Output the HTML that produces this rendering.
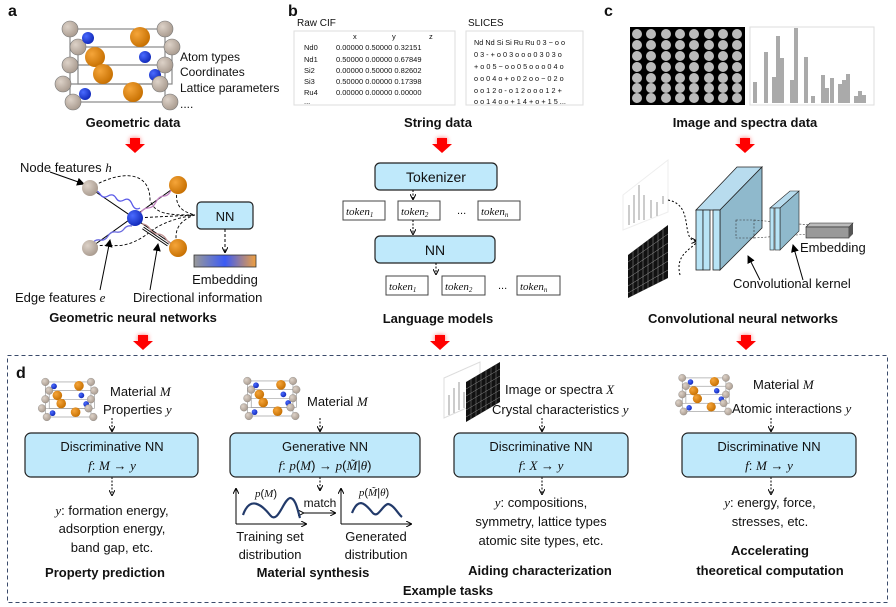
<!DOCTYPE html>
<html><head><meta charset="utf-8"><style>
html,body{margin:0;padding:0;background:#fff}
svg{display:block}
text{font-family:"Liberation Sans",sans-serif;fill:#111}
.b{font-weight:bold}
.m{font-family:"Liberation Serif",serif;font-style:italic}
</style></head><body>
<svg width="896" height="607" viewBox="0 0 896 607" xmlns="http://www.w3.org/2000/svg">
<defs>
<filter id="gl" x="-1" y="-1" width="3" height="3"><feGaussianBlur stdDeviation="2.5"/></filter>
<radialGradient id="gg" cx="0.35" cy="0.35" r="0.7"><stop offset="0" stop-color="#ddd2c8"/><stop offset="1" stop-color="#a89a8e"/></radialGradient>
<radialGradient id="og" cx="0.35" cy="0.35" r="0.7"><stop offset="0" stop-color="#f5a53a"/><stop offset="1" stop-color="#c66f00"/></radialGradient>
<radialGradient id="bg" cx="0.35" cy="0.35" r="0.7"><stop offset="0" stop-color="#4a6bff"/><stop offset="1" stop-color="#1028b8"/></radialGradient>
<linearGradient id="emb" x1="0" x2="1"><stop offset="0" stop-color="#999"/><stop offset="0.5" stop-color="#3b5bf5"/><stop offset="1" stop-color="#f0a040"/></linearGradient>
<g id="arr"><rect x="-5" y="-7" width="10" height="7" fill="#f00" filter="url(#gl)" opacity="0.6"/><rect x="-5" y="-7" width="10" height="6" fill="#f00"/><polygon points="-10,-1 10,-1 0,8" fill="#f00"/></g>
<g id="row" fill="#bbb"><circle cx="637" cy="0" r="5"/><circle cx="651" cy="0" r="5"/><circle cx="666" cy="0" r="5"/><circle cx="680" cy="0" r="5"/><circle cx="694" cy="0" r="5"/><circle cx="709" cy="0" r="5"/><circle cx="723" cy="0" r="5"/><circle cx="737" cy="0" r="5"/></g>
<g id="cry">
<g stroke="#888" stroke-width="1.2" fill="none">
<rect x="7" y="2" width="95" height="73"/><rect x="15" y="20" width="94" height="37"/>
<line x1="7" y1="38" x2="102" y2="38"/><line x1="0" y1="57" x2="97" y2="57"/>
</g>
<g fill="url(#gg)" stroke="#777" stroke-width="0.6">
<circle cx="7" cy="2" r="8"/><circle cx="102" cy="2" r="8"/><circle cx="15" cy="20" r="8"/><circle cx="109" cy="20" r="8"/><circle cx="7" cy="38" r="8"/><circle cx="102" cy="38" r="8"/>
</g>
<g fill="url(#bg)"><circle cx="25" cy="11" r="6"/><circle cx="82" cy="30" r="6"/><circle cx="92" cy="48" r="6"/><circle cx="22" cy="67" r="6"/></g>
<g fill="url(#og)"><circle cx="77" cy="10" r="10"/><circle cx="32" cy="30" r="10"/><circle cx="40" cy="47" r="10"/><circle cx="70" cy="65" r="10"/></g>
<g fill="url(#gg)" stroke="#777" stroke-width="0.6"><circle cx="0" cy="57" r="8"/><circle cx="97" cy="57" r="8"/><circle cx="10" cy="75" r="8"/><circle cx="107" cy="75" r="8"/></g>
</g>
<marker id="ah" markerWidth="6" markerHeight="6" refX="5" refY="3" orient="auto"><path d="M0,0 L6,3 L0,6" fill="none" stroke="#000" stroke-width="1"/></marker>
<marker id="ahs" markerWidth="8" markerHeight="8" refX="7" refY="4" orient="auto"><path d="M0,0 L8,4 L0,8 z" fill="#000"/></marker>
</defs>

<!-- panel a -->
<text x="8" y="16" class="b" font-size="16">a</text>
<use href="#cry" transform="translate(63,27)"/>
<g font-size="12"><text x="180" y="61">Atom types</text><text x="180" y="76">Coordinates</text><text x="180" y="92">Lattice parameters</text><text x="180" y="108">....</text></g>
<text x="133" y="127" class="b" font-size="13" text-anchor="middle">Geometric data</text>
<use href="#arr" transform="translate(135,145)"/>
<text x="20" y="172" font-size="13">Node features <tspan class="m">h</tspan></text>
<line x1="50" y1="172" x2="84" y2="184" stroke="#000" marker-end="url(#ahs)"/>
<g stroke="#000" stroke-width="0.9" fill="none" stroke-dasharray="3,2">
<path d="M90,188 C120,170 150,170 150,200 C155,215 170,215 195,215"/>
<path d="M90,248 C110,240 120,255 150,232 C160,224 175,218 195,215"/>
<path d="M178,185 C175,200 175,210 195,215"/>
<path d="M178,248 C172,230 180,220 195,215"/>
<path d="M135,218 L195,215"/>
</g>
<g stroke="#000" stroke-width="1"><line x1="90" y1="188" x2="178" y2="248"/><line x1="90" y1="248" x2="178" y2="185"/></g>
<path d="M92,192 q5,-3 8,2 t8,2 t8,2 t8,2 t8,4 t8,4" stroke="#5a5ae8" fill="none" stroke-width="1.3"/>
<path d="M92,244 q3,-5 8,-4 t8,-4 t8,-4 t8,-3 t8,-3" stroke="#6b6be0" fill="none" stroke-width="1.3"/>
<path d="M140,214 q3,-6 8,-6 t8,-6 t8,-6 t8,-8" stroke="#c080c0" fill="none" stroke-width="1.3"/>
<path d="M142,224 q5,0 8,5 t8,5 t8,5 t8,5" stroke="#c09090" fill="none" stroke-width="1.3"/>
<line x1="143" y1="228" x2="168" y2="245" stroke="#000" stroke-width="3"/><line x1="143" y1="228" x2="168" y2="245" stroke="#fff" stroke-width="1.2"/>
<circle cx="90" cy="188" r="8" fill="url(#gg)"/><circle cx="90" cy="248" r="8" fill="url(#gg)"/>
<circle cx="178" cy="185" r="9" fill="url(#og)"/><circle cx="178" cy="248" r="9" fill="url(#og)"/>
<circle cx="135" cy="218" r="8" fill="url(#bg)"/>
<rect x="197" y="202" width="56" height="27" rx="4" fill="#bfe9fb" stroke="#222" stroke-width="1.2"/>
<text x="225" y="221" font-size="13" text-anchor="middle">NN</text>
<line x1="225" y1="229" x2="225" y2="252" stroke="#000" stroke-dasharray="3,2" marker-end="url(#ah)"/>
<rect x="194" y="255" width="62" height="12" fill="url(#emb)" stroke="#333" stroke-width="0.8"/>
<text x="225" y="284" font-size="13" text-anchor="middle">Embedding</text>
<line x1="100" y1="290" x2="110" y2="240" stroke="#000" marker-end="url(#ahs)"/>
<line x1="150" y1="290" x2="158" y2="244" stroke="#000" marker-end="url(#ahs)"/>
<text x="15" y="302" font-size="13">Edge features <tspan class="m">e</tspan></text>
<text x="133" y="302" font-size="13">Directional information</text>
<text x="133" y="322" class="b" font-size="13" text-anchor="middle">Geometric neural networks</text>

<!-- panel b -->
<text x="288" y="16" class="b" font-size="16">b</text>
<text x="297" y="26" font-size="10">Raw CIF</text>
<rect x="294" y="31" width="161" height="74" fill="#fff" stroke="#ddd"/>
<g font-size="7.5"><text x="353" y="39">x</text><text x="392" y="39">y</text><text x="429" y="39">z</text>
<text x="304" y="50">Nd0</text><text x="336" y="50">0.00000  0.50000  0.32151</text>
<text x="304" y="62">Nd1</text><text x="336" y="62">0.50000  0.00000  0.67849</text>
<text x="304" y="73">Si2</text><text x="336" y="73">0.00000  0.50000  0.82602</text>
<text x="304" y="84">Si3</text><text x="336" y="84">0.50000  0.00000  0.17398</text>
<text x="304" y="95">Ru4</text><text x="336" y="95">0.00000  0.00000  0.00000</text>
<text x="304" y="104">...</text></g>
<text x="468" y="26" font-size="10">SLICES</text>
<rect x="466" y="31" width="117" height="74" fill="#fff" stroke="#ddd"/>
<g font-size="7.3"><text x="474" y="45">Nd Nd Si Si Ru Ru 0 3 − o o</text><text x="474" y="57">0 3 - + o 0 3 o o o 0 3 0 3 o</text><text x="474" y="69">+ o 0 5 − o o 0 5 o o o 0 4 o</text><text x="474" y="81">o o 0 4 o + o 0 2 o o − 0 2 o</text><text x="474" y="93">o o 1 2 o  - o 1 2 o o o 1 2 +</text><text x="474" y="104">o o 1 4 o o + 1 4 + o + 1 5 ...</text></g>
<text x="438" y="127" class="b" font-size="13" text-anchor="middle">String data</text>
<use href="#arr" transform="translate(442,145)"/>
<rect x="375" y="163" width="122" height="27" rx="5" fill="#bfe9fb" stroke="#222" stroke-width="1.2"/>
<text x="436" y="182" font-size="14" text-anchor="middle">Tokenizer</text>
<line x1="413" y1="190" x2="413" y2="199" stroke="#000" stroke-dasharray="2,1.5" marker-end="url(#ah)"/>
<rect x="343" y="201" width="42" height="19" fill="#fff" stroke="#444"/><text x="346" y="215" font-size="11" class="m">token<tspan font-size="7" dy="2">1</tspan></text>
<rect x="398" y="201" width="42" height="19" fill="#fff" stroke="#444"/><text x="401" y="215" font-size="11" class="m">token<tspan font-size="7" dy="2">2</tspan></text>
<rect x="478" y="201" width="42" height="19" fill="#fff" stroke="#444"/><text x="481" y="215" font-size="11" class="m">token<tspan font-size="7" dy="2">n</tspan></text>
<text x="457" y="214" font-size="11">...</text>
<line x1="413" y1="220" x2="413" y2="234" stroke="#000" stroke-dasharray="2,1.5" marker-end="url(#ah)"/>
<rect x="375" y="236" width="120" height="27" rx="5" fill="#bfe9fb" stroke="#222" stroke-width="1.2"/>
<text x="435" y="255" font-size="14" text-anchor="middle">NN</text>
<line x1="436" y1="263" x2="436" y2="274" stroke="#000" stroke-dasharray="2,1.5" marker-end="url(#ah)"/>
<rect x="386" y="276" width="42" height="19" fill="#fff" stroke="#444"/><text x="389" y="290" font-size="11" class="m">token<tspan font-size="7" dy="2">1</tspan></text>
<rect x="442" y="276" width="43" height="19" fill="#fff" stroke="#444"/><text x="445" y="290" font-size="11" class="m">token<tspan font-size="7" dy="2">2</tspan></text>
<rect x="517" y="276" width="43" height="19" fill="#fff" stroke="#444"/><text x="520" y="290" font-size="11" class="m">token<tspan font-size="7" dy="2">n</tspan></text>
<text x="498" y="289" font-size="11">...</text>
<text x="438" y="323" class="b" font-size="13" text-anchor="middle">Language models</text>

<!-- panel c -->
<text x="604" y="16" class="b" font-size="16">c</text>
<rect x="630" y="27" width="115" height="78" fill="#000"/>
<use href="#row" y="34"/><use href="#row" y="45"/><use href="#row" y="56"/><use href="#row" y="67"/><use href="#row" y="78"/><use href="#row" y="88"/><use href="#row" y="98"/>
<rect x="750" y="27" width="124" height="78" fill="#fff" stroke="#ddd"/>
<g fill="#aaa">
<rect x="753" y="82" width="4" height="21"/><rect x="764" y="52" width="4" height="51"/><rect x="772" y="77" width="4" height="26"/><rect x="776" y="36" width="4" height="67"/><rect x="780" y="58" width="4" height="45"/><rect x="790" y="80" width="4" height="23"/><rect x="794" y="28" width="4" height="75"/><rect x="804" y="57" width="4" height="46"/><rect x="811" y="96" width="4" height="7"/><rect x="821" y="75" width="4" height="28"/><rect x="825" y="88" width="4" height="15"/><rect x="830" y="78" width="4" height="25"/><rect x="838" y="84" width="4" height="19"/><rect x="842" y="80" width="4" height="23"/><rect x="846" y="74" width="4" height="29"/><rect x="854" y="96" width="4" height="7"/><rect x="858" y="91" width="4" height="12"/><rect x="862" y="95" width="4" height="8"/>
</g>
<text x="745" y="127" class="b" font-size="13" text-anchor="middle">Image and spectra data</text>
<use href="#arr" transform="translate(745,145)"/>
<polygon points="623,195 668,160 668,212 623,230" fill="#fff" stroke="#eee"/>
<g fill="#ccc"><rect x="628" y="205" width="2" height="20"/><rect x="633" y="195" width="2" height="28"/><rect x="638" y="185" width="2" height="35"/><rect x="643" y="195" width="2" height="25"/><rect x="650" y="200" width="2" height="18"/><rect x="656" y="202" width="2" height="14"/><rect x="662" y="196" width="2" height="8"/></g>
<polygon points="628,255 668,225 668,278 628,298" fill="#111"/>
<g stroke="#999" stroke-width="0.5"><line x1="633" y1="251" x2="633" y2="296"/><line x1="638" y1="247" x2="638" y2="293"/><line x1="643" y1="244" x2="643" y2="291"/><line x1="648" y1="240" x2="648" y2="288"/><line x1="653" y1="236" x2="653" y2="286"/><line x1="658" y1="232" x2="658" y2="283"/><line x1="663" y1="229" x2="663" y2="281"/>
<line x1="628" y1="262" x2="668" y2="234"/><line x1="628" y1="270" x2="668" y2="243"/><line x1="628" y1="278" x2="668" y2="252"/><line x1="628" y1="286" x2="668" y2="261"/><line x1="628" y1="293" x2="668" y2="270"/></g>
<path d="M668,200 C695,205 680,240 696,241" fill="none" stroke="#000" stroke-dasharray="2,2" marker-end="url(#ah)"/>
<path d="M680,275 C675,255 690,250 696,243" fill="none" stroke="#000" stroke-dasharray="2,2"/>
<polygon points="696,210 737,167 762,167 720,210" fill="#b8dcee" stroke="#222" stroke-width="0.8"/>
<polygon points="720,210 762,167 762,228 720,270" fill="#8fb9cc" stroke="#222" stroke-width="0.8"/>
<rect x="696" y="210" width="7" height="60" fill="#b8e4f6" stroke="#222" stroke-width="0.8"/>
<rect x="703" y="210" width="7" height="60" fill="#b8e4f6" stroke="#222" stroke-width="0.8"/>
<rect x="713" y="210" width="7" height="60" fill="#b8e4f6" stroke="#222" stroke-width="0.8"/>
<g fill="none" stroke="#333" stroke-width="0.6" stroke-dasharray="2,1.5"><rect x="736" y="220" width="18" height="18"/><line x1="754" y1="220" x2="810" y2="225"/><line x1="754" y1="238" x2="810" y2="234"/></g>
<polygon points="770,208 790,191 799,191 780,208" fill="#b8dcee" stroke="#222" stroke-width="0.6"/>
<polygon points="780,208 799,191 799,231 780,250" fill="#8fb9cc" stroke="#222" stroke-width="0.6"/>
<rect x="770" y="208" width="4" height="42" fill="#b8e4f6" stroke="#222" stroke-width="0.6"/><rect x="775" y="208" width="5" height="42" fill="#b8e4f6" stroke="#222" stroke-width="0.6"/>
<polygon points="806,227 849,227 853,223 810,223" fill="#bbb" stroke="#222" stroke-width="0.6"/>
<rect x="806" y="227" width="43" height="11" fill="#999" stroke="#222" stroke-width="0.6"/>
<polygon points="849,227 853,223 853,234 849,238" fill="#555"/>
<line x1="760" y1="280" x2="748" y2="256" stroke="#000" marker-end="url(#ahs)"/>
<line x1="803" y1="280" x2="793" y2="245" stroke="#000" marker-end="url(#ahs)"/>
<text x="800" y="252" font-size="13">Embedding</text>
<text x="733" y="288" font-size="13">Convolutional kernel</text>
<text x="743" y="323" class="b" font-size="13" text-anchor="middle">Convolutional neural networks</text>

<use href="#arr" transform="translate(143,342)"/><use href="#arr" transform="translate(440,342)"/><use href="#arr" transform="translate(746,342)"/>

<!-- panel d -->
<rect x="7.5" y="355.5" width="880" height="247" fill="none" stroke="#3a4a6a" stroke-dasharray="4,3"/>
<text x="16" y="378" class="b" font-size="16">d</text>
<use href="#cry" transform="translate(42,381) scale(0.48)"/>
<use href="#cry" transform="translate(244,380) scale(0.48)"/>
<use href="#cry" transform="translate(679,377) scale(0.46)"/>
<g font-size="13">
<text x="110" y="396">Material <tspan class="m">M</tspan></text>
<text x="103" y="414">Properties <tspan class="m">y</tspan></text>
<text x="307" y="406">Material <tspan class="m">M</tspan></text>
<text x="505" y="394">Image or spectra <tspan class="m">X</tspan></text>
<text x="492" y="414">Crystal characteristics <tspan class="m">y</tspan></text>
<text x="753" y="389">Material <tspan class="m">M</tspan></text>
<text x="732" y="413">Atomic interactions <tspan class="m">y</tspan></text>
</g>
<polygon points="444,378 480,362 480,402 444,418" fill="#fff" stroke="#ddd"/>
<g fill="#ccc"><rect x="448" y="395" width="2" height="20"/><rect x="453" y="388" width="2" height="25"/><rect x="458" y="382" width="2" height="28"/><rect x="463" y="392" width="2" height="16"/></g>
<polygon points="466,382 500,362 500,402 466,422" fill="#111"/>
<g stroke="#888" stroke-width="0.5"><line x1="471" y1="379" x2="471" y2="419"/><line x1="476" y1="376" x2="476" y2="416"/><line x1="481" y1="373" x2="481" y2="413"/><line x1="486" y1="370" x2="486" y2="410"/><line x1="491" y1="367" x2="491" y2="407"/><line x1="496" y1="364" x2="496" y2="404"/><line x1="466" y1="389" x2="500" y2="369"/><line x1="466" y1="396" x2="500" y2="376"/><line x1="466" y1="403" x2="500" y2="383"/><line x1="466" y1="410" x2="500" y2="390"/><line x1="466" y1="417" x2="500" y2="397"/></g>
<g stroke="#000" stroke-dasharray="2,1.5"><line x1="112" y1="418" x2="112" y2="431" marker-end="url(#ah)"/><line x1="320" y1="418" x2="320" y2="431" marker-end="url(#ah)"/><line x1="542" y1="418" x2="542" y2="431" marker-end="url(#ah)"/><line x1="771" y1="418" x2="771" y2="431" marker-end="url(#ah)"/>
<line x1="112" y1="477" x2="112" y2="495" marker-end="url(#ah)"/><line x1="320" y1="477" x2="320" y2="490" marker-end="url(#ah)"/><line x1="542" y1="477" x2="542" y2="494" marker-end="url(#ah)"/><line x1="771" y1="477" x2="771" y2="494" marker-end="url(#ah)"/></g>
<g fill="#bfe9fb" stroke="#222" stroke-width="1.2"><rect x="25" y="433" width="173" height="44" rx="6"/><rect x="230" y="433" width="190" height="44" rx="6"/><rect x="454" y="433" width="174" height="44" rx="6"/><rect x="682" y="433" width="174" height="44" rx="6"/></g>
<g font-size="13" text-anchor="middle">
<text x="112" y="451">Discriminative NN</text><text x="112" y="470"><tspan class="m">f</tspan>: <tspan class="m">M</tspan> → <tspan class="m">y</tspan></text>
<text x="325" y="451">Generative NN</text><text x="325" y="470"><tspan class="m">f</tspan>: <tspan class="m">p</tspan>(<tspan class="m">M</tspan>) → <tspan class="m">p</tspan>(<tspan class="m">M̃</tspan>|<tspan class="m">θ</tspan>)</text>
<text x="541" y="451">Discriminative NN</text><text x="541" y="470"><tspan class="m">f</tspan>: <tspan class="m">X</tspan> → <tspan class="m">y</tspan></text>
<text x="769" y="451">Discriminative NN</text><text x="769" y="470"><tspan class="m">f</tspan>: <tspan class="m">M</tspan> → <tspan class="m">y</tspan></text>
<text x="112" y="515"><tspan class="m">y</tspan>:  formation energy,</text><text x="112" y="533">adsorption energy,</text><text x="112" y="552">band gap, etc.</text>
<text x="541" y="507"><tspan class="m">y</tspan>:  compositions,</text><text x="541" y="526">symmetry, lattice types</text><text x="541" y="545">atomic site types, etc.</text>
<text x="770" y="507"><tspan class="m">y</tspan>: energy, force,</text><text x="770" y="526">stresses, etc.</text>
<text x="270" y="541">Training set</text><text x="270" y="559">distribution</text>
<text x="376" y="541">Generated</text><text x="376" y="559">distribution</text>
</g>
<g font-size="13" class="b" text-anchor="middle">
<text x="105" y="577">Property prediction</text><text x="313" y="577">Material synthesis</text><text x="540" y="575">Aiding characterization</text>
<text x="770" y="555">Accelerating</text><text x="770" y="575">theoretical computation</text><text x="448" y="595">Example tasks</text>
</g>
<g stroke="#000" fill="none" stroke-width="1"><path d="M236,524 V489" marker-end="url(#ah)"/><path d="M236,524 H306" marker-end="url(#ah)"/><path d="M341,524 V489" marker-end="url(#ah)"/><path d="M341,524 H411" marker-end="url(#ah)"/><path d="M303,513 H335" marker-start="url(#ah)" marker-end="url(#ah)"/></g>
<path d="M243,515 C250,495 262,505 270,515 C278,525 283,500 290,498 C296,498 298,512 300,518" stroke="#223a6a" stroke-width="2.2" fill="none"/>
<path d="M352,513 C358,498 364,502 372,512 C378,520 382,505 388,504 C394,505 398,514 402,517" stroke="#223a6a" stroke-width="2.2" fill="none"/>
<text x="266" y="497" font-size="11" text-anchor="middle"><tspan class="m">p</tspan>(<tspan class="m">M</tspan>)</text>
<text x="374" y="496" font-size="11" text-anchor="middle"><tspan class="m">p</tspan>(<tspan class="m">M̃</tspan>|<tspan class="m">θ</tspan>)</text>
<text x="320" y="507" font-size="12" text-anchor="middle">match</text>
</svg>
</body></html>
